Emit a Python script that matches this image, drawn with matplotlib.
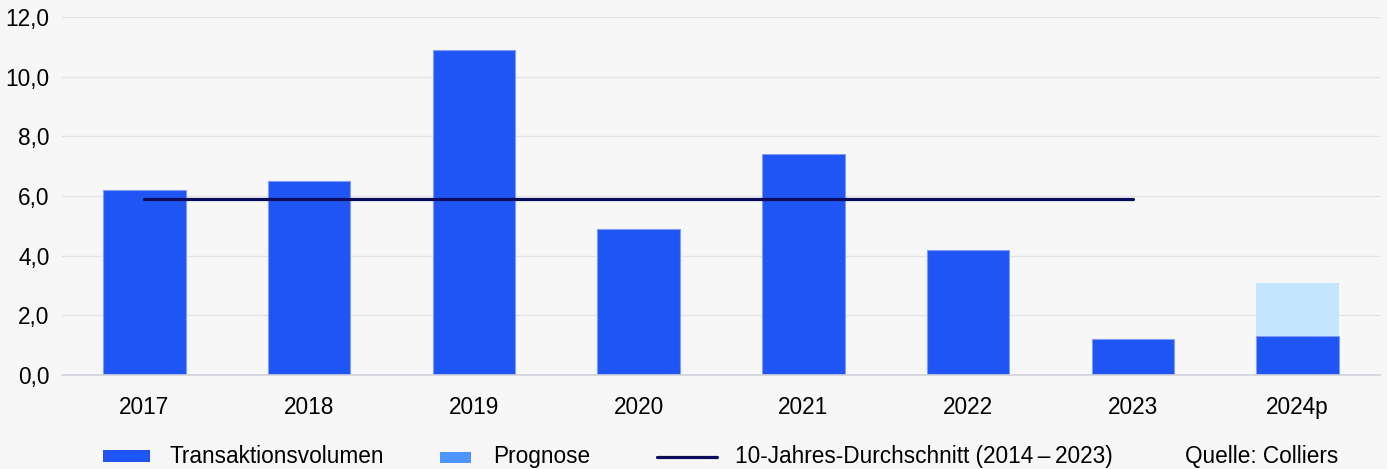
import matplotlib
matplotlib.use("Agg")
import matplotlib.pyplot as plt
from matplotlib.patches import Rectangle
from matplotlib.lines import Line2D
import numpy as np

plt.rcParams['font.family'] = ['Liberation Sans', 'DejaVu Sans']

years = ["2017", "2018", "2019", "2020", "2021", "2022", "2023", "2024p"]
volume = [6.2, 6.5, 10.9, 4.9, 7.4, 4.2, 1.2, 1.3]
forecast = [0, 0, 0, 0, 0, 0, 0, 1.8]
avg_years = ["2017", "2023"]
avg_value = [5.9, 5.9]
yticks = [0, 2, 4, 6, 8, 10, 12]
legend_labels = ["Transaktionsvolumen", "Prognose",
                 "10-Jahres-Durchschnitt (2014\u2009\u2013\u20092023)"]
source = "Quelle: Colliers"

BLUE = "#1f55f5"
LIGHT = "#c3e5fd"
LEG_LIGHT = "#4f95ff"
NAVY = "#0b0d5c"
BG = "#f7f7f7"
FS = 16.3
W, H = 1387, 469

fig = plt.figure(figsize=(W / 100, H / 100), dpi=100, facecolor=BG)
ax = fig.add_axes([62 / W, 1 - 375 / H, (1380 - 62) / W, (375 - 17) / H], facecolor=BG)

x = np.arange(len(years))
ax.bar(x, volume, width=0.5, color=BLUE, edgecolor="#7f9cf6", linewidth=0.8, zorder=2)
ax.bar(x, forecast, bottom=volume, width=0.5, color=LIGHT, linewidth=0, zorder=2)
ax.plot([years.index(y) for y in avg_years], avg_value, color=NAVY, lw=2.3,
        solid_capstyle='round', zorder=3)

ax.set_xlim(-0.5, len(years) - 0.5)
ax.set_ylim(0, 12)
ax.set_yticks(yticks)
ax.set_yticklabels([f"{v:.1f}".replace(".", ",") for v in yticks], fontsize=FS)
ax.set_xticks(x)
ax.set_xticklabels(years, fontsize=FS)
ax.tick_params(axis='y', length=0, pad=9)
ax.tick_params(axis='x', length=0, pad=15)
ax.grid(axis='y', color="#e4e4ec", lw=1, zorder=0)
for s in ["left", "right", "top"]:
    ax.spines[s].set_visible(False)
ax.spines["bottom"].set_color("#d2d2da")
ax.spines["bottom"].set_linewidth(1.2)
ax.spines["bottom"].set_zorder(4)

def fx(px):
    return px / W

def fy(py):
    return 1 - py / H

# legend (manual layout in figure pixels)
fig.add_artist(Rectangle((fx(103), fy(462)), fx(150) - fx(103), fy(450) - fy(462),
                         transform=fig.transFigure, facecolor=BLUE, edgecolor="none"))
fig.text(fx(170), fy(456), legend_labels[0], fontsize=FS, va="center", ha="left")
fig.add_artist(Rectangle((fx(440), fy(463)), fx(471) - fx(440), fy(452) - fy(463),
                         transform=fig.transFigure, facecolor=LEG_LIGHT, edgecolor="none"))
fig.text(fx(493), fy(456), legend_labels[1], fontsize=FS, va="center", ha="left")
fig.add_artist(Line2D([fx(657), fx(717)], [fy(457), fy(457)], transform=fig.transFigure,
                      color=NAVY, lw=2.3, solid_capstyle='round'))
fig.text(fx(735), fy(456), legend_labels[2], fontsize=FS, va="center", ha="left")
fig.text(fx(1338), fy(456), source, fontsize=FS, va="center", ha="right")

fig.savefig("out.png", dpi=100, facecolor=BG)
